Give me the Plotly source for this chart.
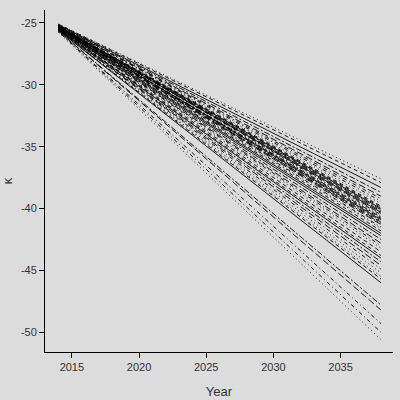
import plotly.graph_objects as go

years = [2014, 2038]
start_vals = [-25.1, -25.1, -25.15, -25.15, -25.2, -25.2, -25.2, -25.25, -25.25, -25.25,
              -25.3, -25.3, -25.3, -25.3, -25.3, -25.35, -25.35, -25.35, -25.35, -25.4,
              -25.4, -25.4, -25.4, -25.4, -25.45, -25.45, -25.45, -25.45, -25.5, -25.5,
              -25.5, -25.5, -25.55, -25.55, -25.55, -25.6, -25.6, -25.6, -25.6, -25.65,
              -25.65, -25.7, -25.7, -25.75, -25.3, -25.35, -25.4, -25.45]
end_vals = [-37.6, -37.9, -38.3, -38.7, -39.0, -39.2, -39.4, -39.6, -39.8, -40.0,
            -40.1, -40.2, -40.4, -40.5, -40.6, -40.8, -40.9, -41.0, -41.2, -41.3,
            -41.5, -41.6, -41.8, -42.0, -42.2, -42.5, -42.8, -43.0, -43.2, -43.5,
            -43.8, -44.0, -44.3, -44.6, -44.9, -45.2, -45.5, -45.7, -46.0, -47.8,
            -48.2, -49.3, -50.0, -50.6, -39.9, -40.3, -40.7, -41.1]
x_ticks = [2015, 2020, 2025, 2030, 2035]
y_ticks = [-25, -30, -35, -40, -45, -50]
y_tick_labels = ["-25", "-30", "-35", "-40", "-45", "-50"]
dash_styles = ["solid", "4px,3px", "1px,3px", "1px,3px,4px,3px", "7px,3px", "2px,2px,6px,2px"]

fig = go.Figure()
for i, (s, e) in enumerate(zip(start_vals, end_vals)):
    fig.add_trace(go.Scatter(x=years, y=[s, e], mode="lines",
                             line=dict(color="black", width=0.9,
                                       dash=dash_styles[(i * 5 + i // 6 + 2) % 6]),
                             showlegend=False, hoverinfo="skip"))

bg = "#dcdcdc"
fig.update_layout(
    width=400, height=400,
    paper_bgcolor=bg, plot_bgcolor=bg,
    margin=dict(l=45, r=7, t=10, b=48),
    font=dict(family="Liberation Sans, Arial, sans-serif", size=11, color="#333333"),
    xaxis=dict(range=[2013.0, 2038.9], tickvals=x_ticks,
               showgrid=False, zeroline=False, showline=True, linecolor="black",
               linewidth=1, ticks="outside", ticklen=5, tickcolor="black",
               automargin=False,
               title=dict(text="Year", standoff=14)),
    yaxis=dict(range=[-51.6, -23.95], tickvals=y_ticks, ticktext=y_tick_labels,
               showgrid=False, zeroline=False, showline=True, linecolor="black",
               linewidth=1, ticks="outside", ticklen=5, tickcolor="black",
               automargin=False,
               title=dict(text="κ", standoff=10)),
)
fig.write_html("out.html", config={"displayModeBar": False},
               post_script="document.body.style.margin='0';document.body.style.background='#dcdcdc';")
